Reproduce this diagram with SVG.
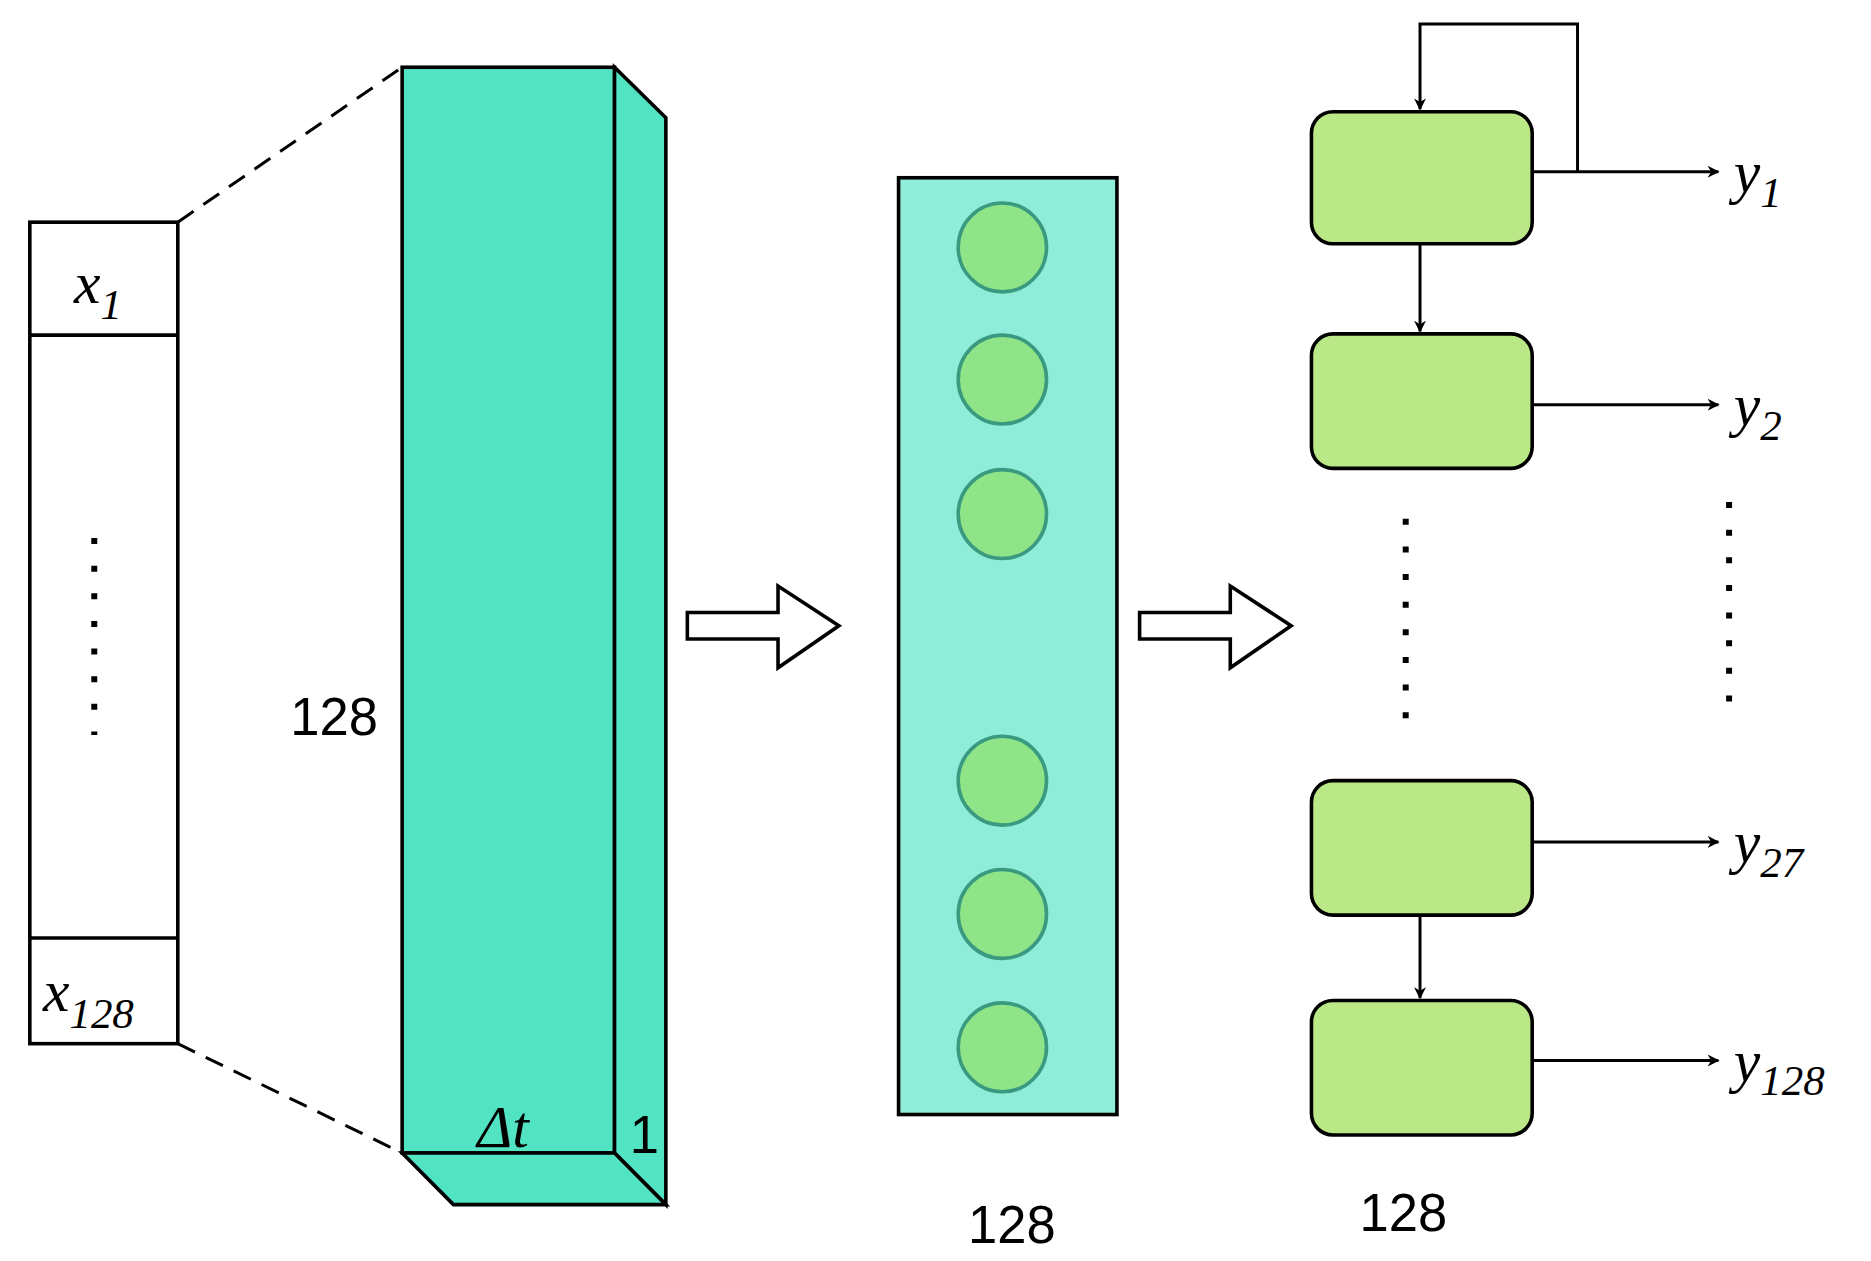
<svg xmlns="http://www.w3.org/2000/svg" width="1871" height="1261" viewBox="0 0 1871 1261">
<defs>
<marker id="ah" markerWidth="10" markerHeight="10" refX="9" refY="5" orient="auto" markerUnits="userSpaceOnUse" viewBox="0 0 10 10"><path d="M0,0 L10,5 L0,10 L3,5 Z" fill="#000"/></marker>
<style>
.s{stroke:#000;stroke-width:3;}
.t{font-family:"Liberation Sans",Arial,sans-serif;font-size:44px;}
.m{font-family:"Liberation Serif","DejaVu Serif",serif;font-style:italic;font-size:50px;}
.sub{font-family:"Liberation Serif","DejaVu Serif",serif;font-size:36px;}
.c{fill:#8ee487;stroke:#3a9a80;stroke-width:3;}
.g{fill:#bbe886;stroke:#000;stroke-width:3;}
.dot{stroke:#000;stroke-width:5;stroke-dasharray:5 18;}
</style>
</defs>
<rect width="1871" height="1261" fill="#fff"/>
<g transform="scale(1.1933,1.201)">
<g id="input">
<rect x="25" y="185" width="124" height="684" fill="#fff" class="s"/>
<line x1="25" y1="279" x2="149" y2="279" class="s"/>
<line x1="25" y1="781" x2="149" y2="781" class="s"/>
<text x="62" y="252" class="m">x<tspan class="sub" dy="14">1</tspan></text>
<text x="36" y="842" class="m">x<tspan class="sub" dy="14">128</tspan></text>
<line x1="79" y1="448" x2="79" y2="612" class="dot"/>
</g>
<g id="connectors">
<line x1="149" y1="185" x2="337" y2="56" stroke="#000" stroke-width="2.5" stroke-dasharray="16 10"/>
<line x1="149" y1="869" x2="337" y2="960" stroke="#000" stroke-width="2.5" stroke-dasharray="16 10"/>
<path d="M576,510 H652 V488 L703,521 L652,556 V532 H576 Z" fill="#fff" class="s"/>
<path d="M955,510 H1031 V488 L1082,521 L1031,556 V532 H955 Z" fill="#fff" class="s"/>
<g fill="none" stroke="#000" stroke-width="2.5" marker-end="url(#ah)">
<line x1="1281" y1="143" x2="1440" y2="143"/>
<line x1="1281" y1="337" x2="1440" y2="337"/>
<line x1="1281" y1="701" x2="1440" y2="701"/>
<line x1="1281" y1="883" x2="1440" y2="883"/>
<path d="M1322,143 V20 H1190 V91"/>
<line x1="1190" y1="203" x2="1190" y2="276"/>
<line x1="1190" y1="762" x2="1190" y2="831"/>
</g>
</g>
<g id="slab">
<rect x="337" y="56" width="178" height="904" fill="#52e3c2" class="s"/>
<path d="M515,56 L558,98 V1003 L515,960 Z" fill="#52e3c2" class="s"/>
<path d="M337,960 L380,1003 H558 L515,960 Z" fill="#52e3c2" class="s"/>
<text x="280" y="612" class="t" text-anchor="middle">128</text>
<text x="400" y="955" class="m">Δt</text>
<text x="540" y="960" class="t" text-anchor="middle">1</text>
</g>
<g id="dense">
<rect x="753" y="148" width="183" height="780" fill="#8eecd8" class="s"/>
<circle cx="840" cy="206" r="37" class="c"/>
<circle cx="840" cy="316" r="37" class="c"/>
<circle cx="840" cy="428" r="37" class="c"/>
<circle cx="840" cy="650" r="37" class="c"/>
<circle cx="840" cy="761" r="37" class="c"/>
<circle cx="840" cy="872" r="37" class="c"/>
<text x="848" y="1035" class="t" text-anchor="middle">128</text>
</g>
<g id="lstm">
<rect x="1099" y="93" width="185" height="110" rx="18" class="g"/>
<rect x="1099" y="278" width="185" height="112" rx="18" class="g"/>
<rect x="1099" y="650" width="185" height="112" rx="18" class="g"/>
<rect x="1099" y="833" width="185" height="112" rx="18" class="g"/>
<line x1="1178" y1="432" x2="1178" y2="600" class="dot"/>
<line x1="1449" y1="418" x2="1449" y2="585" class="dot"/>
<text x="1176" y="1025" class="t" text-anchor="middle">128</text>
<text x="1453" y="160" class="m">y<tspan class="sub" dy="12">1</tspan></text>
<text x="1453" y="354" class="m">y<tspan class="sub" dy="12">2</tspan></text>
<text x="1453" y="718" class="m">y<tspan class="sub" dy="12">27</tspan></text>
<text x="1453" y="900" class="m">y<tspan class="sub" dy="12">128</tspan></text>
</g>
</g>
</svg>
